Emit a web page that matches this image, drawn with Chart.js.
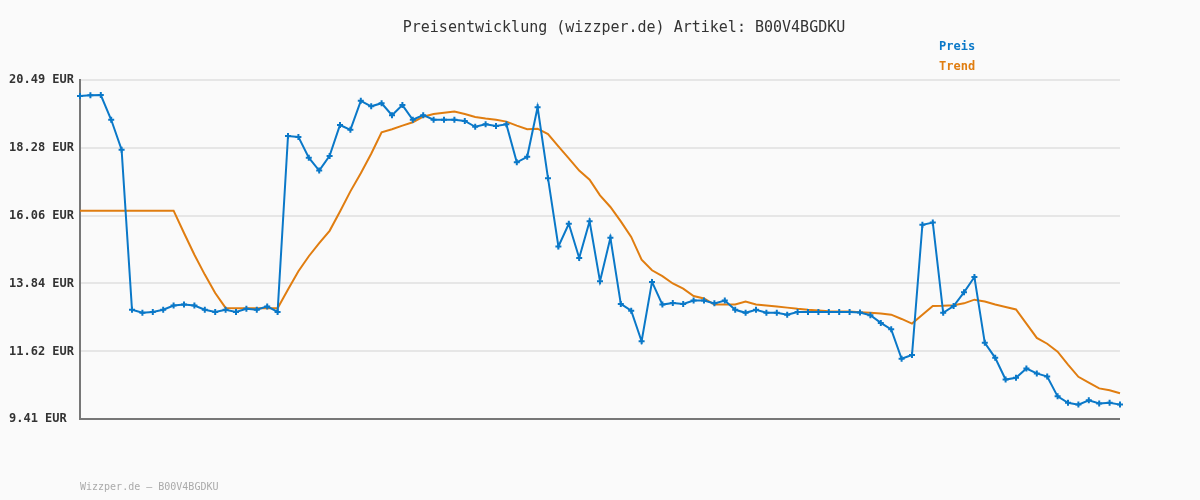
<!DOCTYPE html>
<html>
<head>
<meta charset="utf-8">
<script src="https://cdn.jsdelivr.net/npm/chart.js@4"></script>
<style>
  body { margin: 0; background: #fafafa; }
  #wrap { width: 1200px; height: 500px; }
</style>
</head>
<body>
<div id="wrap"><canvas id="preisChart" width="1200" height="500"></canvas></div>
<script>
const titel = 'Preisentwicklung (wizzper.de) Artikel: B00V4BGDKU';
const fussnote = 'Wizzper.de – B00V4BGDKU';

// Preis je Messpunkt (EUR)
const preis = [
  19.97, 19.99, 20.00, 19.19, 18.21,
  12.98, 12.88, 12.91, 12.98, 13.12,
  13.15, 13.12, 12.98, 12.91, 12.98,
  12.91, 13.01, 12.98, 13.09, 12.91,
  18.66, 18.63, 17.95, 17.53, 18.01,
  19.02, 18.86, 19.81, 19.63, 19.73,
  19.34, 19.67, 19.19, 19.34, 19.19,
  19.19, 19.19, 19.15, 18.96, 19.04,
  18.99, 19.04, 17.80, 17.98, 19.60,
  17.28, 15.05, 15.79, 14.67, 15.87,
  13.91, 15.33, 13.17, 12.95, 11.95,
  13.89, 13.15, 13.20, 13.17, 13.28,
  13.28, 13.19, 13.28, 12.98, 12.88,
  12.98, 12.88, 12.88, 12.82, 12.91,
  12.91, 12.91, 12.91, 12.91, 12.91,
  12.89, 12.80, 12.55, 12.34, 11.38,
  11.50, 15.76, 15.83, 12.88, 13.10,
  13.55, 14.05, 11.90, 11.41, 10.70,
  10.76, 11.06, 10.90, 10.80, 10.15,
  9.94, 9.88, 10.02, 9.92, 9.94,
  9.88
];

// Trendlinie
const trend = [
  16.22, 16.22, 16.22, 16.22, 16.22,
  16.22, 16.22, 16.22, 16.22, 16.22,
  15.49, 14.78, 14.13, 13.53, 13.04,
  13.03, 13.03, 13.03, 13.03, 13.03,
  13.64, 14.24, 14.73, 15.16, 15.56,
  16.19, 16.85, 17.44, 18.08, 18.78,
  18.88, 19.00, 19.11, 19.29, 19.38,
  19.42, 19.46, 19.38, 19.28, 19.23,
  19.19, 19.13, 19.00, 18.88, 18.90,
  18.72, 18.32, 17.93, 17.53, 17.23,
  16.72, 16.34, 15.87, 15.36, 14.62,
  14.27, 14.08, 13.84, 13.67, 13.43,
  13.35, 13.15, 13.15, 13.15, 13.25,
  13.15, 13.12, 13.09, 13.05, 13.01,
  12.98, 12.96, 12.93, 12.92, 12.92,
  12.90, 12.88, 12.86, 12.82, 12.68,
  12.53, 12.82, 13.10, 13.11, 13.13,
  13.19, 13.31, 13.25, 13.15, 13.07,
  12.99, 12.53, 12.06, 11.87, 11.61,
  11.19, 10.79, 10.60, 10.41, 10.35,
  10.25
];

const yTicks = [20.49, 18.28, 16.06, 13.84, 11.62, 9.41];
const tage = preis.map((_, i) => String(i + 1));

const blau = '#0a78c8';
const orange = '#e07d10';

// Titel, Legende und Fussnote
const textPlugin = {
  id: 'texte',
  afterDraw(chart) {
    const c = chart.ctx;
    c.save();
    c.textBaseline = 'middle';
    c.font = '15px "DejaVu Sans Mono"';
    c.fillStyle = '#333';
    c.textAlign = 'center';
    c.fillText(titel, 624, 28);
    c.font = 'bold 12px "DejaVu Sans Mono"';
    c.textAlign = 'left';
    chart.data.datasets.forEach((ds, i) => {
      c.fillStyle = ds.borderColor;
      c.fillText(ds.label, 939, 47 + i * 20);
    });
    c.font = '10px "DejaVu Sans Mono"';
    c.fillStyle = '#aaa';
    c.fillText(fussnote, 80, 487);
    c.restore();
  }
};

const ctx = document.getElementById('preisChart').getContext('2d');
new Chart(ctx, {
  type: 'line',
  data: {
    labels: tage,
    datasets: [{
      label: 'Preis',
      data: preis,
      borderColor: blau,
      backgroundColor: blau,
      borderWidth: 2,
      pointStyle: 'cross',
      pointRadius: 3,
      pointBorderWidth: 2,
      tension: 0,
      clip: false,
      order: 0
    }, {
      label: 'Trend',
      data: trend,
      borderColor: orange,
      backgroundColor: orange,
      borderWidth: 2,
      pointRadius: 0,
      tension: 0,
      clip: false,
      order: 1
    }]
  },
  options: {
    responsive: false,
    animation: false,
    layout: { padding: { top: 80, right: 80, bottom: 81, left: 9 } },
    plugins: {
      legend: { display: false },
      title: { display: false },
      tooltip: { enabled: false }
    },
    scales: {
      x: { display: false, offset: false },
      y: {
        min: 9.41,
        max: 20.49,
        afterBuildTicks: (scale) => { scale.ticks = yTicks.map(v => ({ value: v })); },
        afterFit: (scale) => { scale.width = 71; },
        border: { color: '#777', width: 2 },
        grid: {
          drawTicks: false,
          lineWidth: 2,
          color: (c) => (c.tick && c.tick.value === 9.41 ? '#777' : '#e6e6e6')
        },
        ticks: {
          crossAlign: 'far',
          padding: 8,
          color: '#333',
          font: { family: '"DejaVu Sans Mono"', size: 12, weight: 'bold' },
          callback: (v) => Number(v).toFixed(2) + ' EUR'
        }
      }
    }
  },
  plugins: [textPlugin]
});
</script>
</body>
</html>
